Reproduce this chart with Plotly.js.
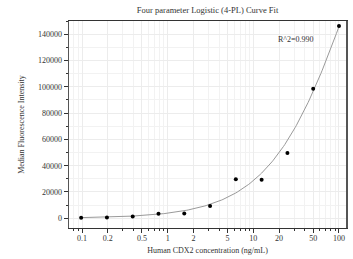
<!DOCTYPE html>
<html>
<head>
<meta charset="utf-8">
<script src="https://cdn.plot.ly/plotly-3.0.1.min.js"></script>
<style>html,body{margin:0;padding:0;background:#fff;}#chart{width:353px;height:259px;}</style>
</head>
<body>
<div id="chart"></div>
<script>
// Standards (ng/mL) and measured MFI
var concentrations = [0.09765625, 0.1953125, 0.390625, 0.78125, 1.5625, 3.125, 6.25, 12.5, 25, 50, 100];
var mfi = [400, 500, 1300, 3400, 3600, 9300, 29700, 29400, 49700, 98600, 146300];

// 4PL fit parameters: y = d + (a - d) / (1 + (x / c)^b)
var fitA = 0;
var fitB = 0.9;
var fitC = 150;
var fitD = 356000;
var rSquared = "R^2=0.990";

var xTickVals = [0.1, 0.2, 0.5, 1, 2, 5, 10, 20, 50, 100];
var xTickText = ["0.1", "0.2", "0.5", "1", "2", "5", "10", "20", "50", "100"];
var yTickVals = [0, 20000, 40000, 60000, 80000, 100000, 120000, 140000];
var yTickText = ["0", "20000", "40000", "60000", "80000", "100000", "120000", "140000"];

var titleText = "Four parameter Logistic (4-PL) Curve Fit";
var xTitle = "Human CDX2 concentration (ng/mL)";
var yTitle = "Median Fluorescence Intensity";

// curve evaluated on a log-spaced grid over the data span
var curveX = [], curveY = [];
var lo = Math.log10(concentrations[0]), hi = Math.log10(concentrations[concentrations.length - 1]);
for (var i = 0; i <= 200; i++) {
  var x = Math.pow(10, lo + (hi - lo) * i / 200);
  curveX.push(x);
  curveY.push(fitD + (fitA - fitD) / (1 + Math.pow(x / fitC, fitB)));
}

// minor ticks at every 1..9 multiple
var minorVals = [];
[0.01, 0.1, 1, 10, 100].forEach(function (p) {
  for (var k = 1; k <= 9; k++) minorVals.push(+(k * p).toPrecision(3));
});

var font = {family: "Liberation Serif, Times New Roman, serif", size: 8, color: "#333333"};

var traces = [
  {x: curveX, y: curveY, type: "scatter", mode: "lines",
   line: {color: "#9a9a9a", width: 1}, hoverinfo: "skip"},
  {x: concentrations, y: mfi, type: "scatter", mode: "markers",
   marker: {color: "#000", size: 4}}
];

var layout = {
  width: 353, height: 259,
  margin: {l: 69, r: 7, t: 21, b: 31},
  paper_bgcolor: "#fff", plot_bgcolor: "#fff",
  showlegend: false,
  font: font,
  title: {text: titleText, font: {family: font.family, size: 8.5, color: "#333333"},
          x: 0.588, xanchor: "center", y: 0.962, yanchor: "middle"},
  xaxis: {
    type: "log", range: [-1.152, 2.082],
    tickmode: "array", tickvals: xTickVals, ticktext: xTickText,
    ticks: "outside", ticklen: 4, tickwidth: 1, tickcolor: "#333",
    ticklabelstandoff: -2,
    showline: true, linecolor: "#333", linewidth: 1, mirror: true,
    showgrid: true, gridcolor: "#ececec", gridwidth: 1,
    zeroline: false,
    tickfont: font,
    minor: {tickvals: minorVals, ticks: "outside", ticklen: 2, tickcolor: "#333",
            showgrid: true, gridcolor: "#f2f2f2"},
    title: {text: xTitle, font: font, standoff: 5}
  },
  yaxis: {
    range: [-7400, 150100],
    tickmode: "array", tickvals: yTickVals, ticktext: yTickText,
    ticks: "outside", ticklen: 4, tickwidth: 1, tickcolor: "#333",
    showline: true, linecolor: "#555", linewidth: 1.5, mirror: true,
    showgrid: true, gridcolor: "#ececec", gridwidth: 1,
    zeroline: false,
    tickfont: font,
    minor: {dtick: 10000, ticks: "outside", ticklen: 2, tickcolor: "#333",
            showgrid: true, gridcolor: "#f2f2f2"},
    title: {text: yTitle, font: font, standoff: 12}
  },
  annotations: [{
    text: rSquared, xref: "paper", yref: "paper", x: 0.82, y: 0.91,
    xanchor: "center", yanchor: "middle", showarrow: false,
    font: font
  }]
};

Plotly.newPlot("chart", traces, layout, {displayModeBar: false, staticPlot: true});
</script>
</body>
</html>
